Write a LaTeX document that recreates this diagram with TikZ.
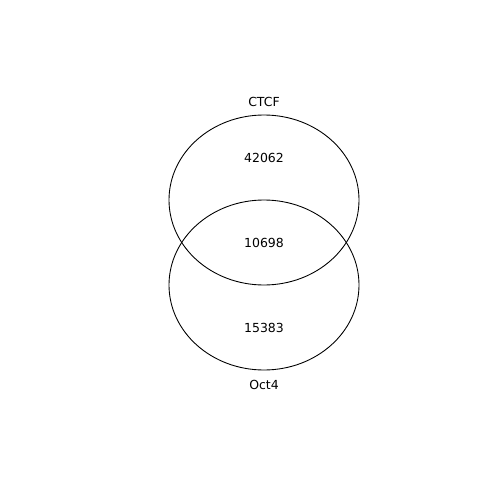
\documentclass[tikz,border=0pt]{standalone}
\usepackage{fontspec}
\setmainfont{DejaVu Sans}
\usetikzlibrary{positioning}

\begin{document}
\begin{tikzpicture}[x=0.02cm, y=-0.02cm, line width=0.5pt,
  lbl/.style={font=\fontsize{7.1}{8.5}\selectfont, inner sep=0pt}]
  \useasboundingbox (0,0) rectangle (500,500);

  % Draw the two sets
  \draw (264,200) ellipse [x radius=95, y radius=85]; % CTCF
  \draw (264,285) ellipse [x radius=95, y radius=85]; % Oct4

  % Labels
  \node[lbl] (ctcf) at (264,102) {CTCF};
  \node[lbl] (only1) at (264,158) {42062};
  \node[lbl] (both) at (264,243) {10698};
  \node[lbl] (only2) at (264,328) {15383};
  \node[lbl] (oct) at (264,385) {Oct4};
\end{tikzpicture}
\end{document}
